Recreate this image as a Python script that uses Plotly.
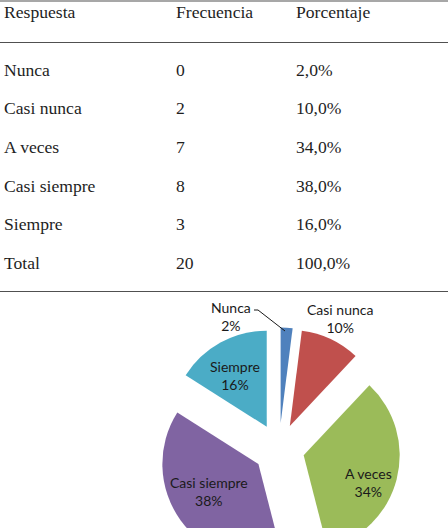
import plotly.graph_objects as go

# ---- data ----
respuestas = ["Nunca", "Casi nunca", "A veces", "Casi siempre", "Siempre"]
frecuencias = [0, 2, 7, 8, 3]
porcentajes = [2.0, 10.0, 34.0, 38.0, 16.0]
total_label = "Total"
total_frecuencia = 20
total_porcentaje = 100.0
headers = ["Respuesta", "Frecuencia", "Porcentaje"]
colores = ["#4F81BD", "#C0504D", "#9BBB59", "#8064A2", "#4BACC6"]

W, H = 448, 600

def py(px):
    return 1 - px / H

def px_x(px):
    return px / W

fig = go.Figure()

# pie
fig.add_trace(go.Pie(
    labels=respuestas,
    values=porcentajes,
    sort=False,
    direction="clockwise",
    rotation=0,
    pull=[0.265] * 5,
    marker=dict(colors=colores, line=dict(width=0)),
    textinfo="none",
    domain=dict(x=[px_x(157.5), px_x(400.5)], y=[py(570.5), py(327.5)]),
    showlegend=False,
    hoverinfo="label+percent",
    automargin=False,
))

# pie labels (label + percent from data)
label_pos = [(231, 316.5), (340, 318.5), (368, 482.5), (209, 491), (235, 375)]
tot = sum(porcentajes)
for lab, val, (lx, ly) in zip(respuestas, porcentajes, label_pos):
    fig.add_annotation(
        x=px_x(lx), y=py(ly), xref="paper", yref="paper",
        text="%s<br>%d%%" % (lab, round(val / tot * 100)),
        showarrow=False, xanchor="center", yanchor="middle", align="center",
        font=dict(family="Lato", size=14, color="#1a1a1a"),
    )

# leader line for "Nunca"
fig.add_shape(type="path", xref="paper", yref="paper",
              path="M %f,%f L %f,%f L %f,%f" % (px_x(254), py(310), px_x(258), py(310), px_x(285), py(331)),
              line=dict(color="#1a1a1a", width=1))

# table text
col_x = [2, 174, 294]
row_y = [12, 70, 108, 147, 186, 224, 263]

def fmt_pct(v):
    return ("%.1f" % v).replace(".", ",") + "%"

rows = [headers]
for r, f, p in zip(respuestas, frecuencias, porcentajes):
    rows.append([r, str(f), fmt_pct(p)])
rows.append([total_label, str(total_frecuencia), fmt_pct(total_porcentaje)])

for ri, row in enumerate(rows):
    for ci, txt in enumerate(row):
        fig.add_annotation(
            x=px_x(col_x[ci]), y=py(row_y[ri]), xref="paper", yref="paper",
            text=txt, showarrow=False, xanchor="left", yanchor="middle",
            font=dict(family="Liberation Serif", size=17.6, color="#1e1e1e"),
        )

# table rules
for ypx in [1, 42.5, 291.5]:
    fig.add_shape(type="line", xref="paper", yref="paper",
                  x0=0, x1=1, y0=py(ypx), y1=py(ypx),
                  line=dict(color="#505050", width=1.2))

fig.update_layout(
    width=W, height=H, autosize=False,
    margin=dict(l=0, r=0, t=0, b=0),
    paper_bgcolor="white", plot_bgcolor="white",
)

fig.write_html(
    "out.html",
    config={"displayModeBar": False},
    post_script="document.body.style.overflow='hidden';document.documentElement.style.overflow='hidden';document.body.style.margin='0';",
)
